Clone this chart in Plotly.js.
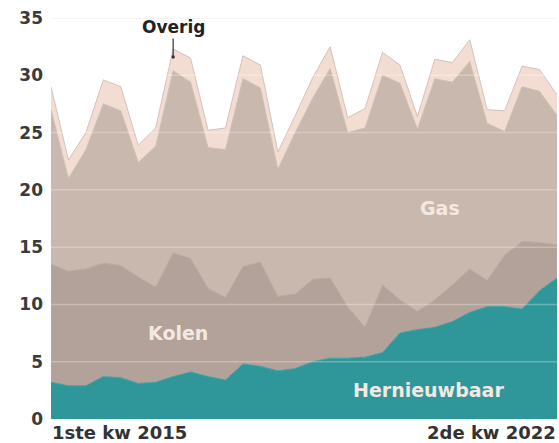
<!DOCTYPE html>
<html>
<head>
<meta charset="utf-8">
<script src="https://cdn.plot.ly/plotly-3.0.1.min.js"></script>
<style>html,body{margin:0;padding:0;background:#fff;}#chart{width:559px;height:443px;}</style>
</head>
<body>
<div id="chart"></div>
<script>
var quarters = ['2015 K1','2015 K2','2015 K3','2015 K4','2016 K1','2016 K2','2016 K3','2016 K4',
  '2017 K1','2017 K2','2017 K3','2017 K4','2018 K1','2018 K2','2018 K3','2018 K4',
  '2019 K1','2019 K2','2019 K3','2019 K4','2020 K1','2020 K2','2020 K3','2020 K4',
  '2021 K1','2021 K2','2021 K3','2021 K4','2022 K1','2022 K2'];
var hernieuwbaar = [3.2,2.9,2.9,3.7,3.6,3.1,3.2,3.7,4.1,3.7,3.4,4.8,4.6,4.2,4.4,5.0,5.3,5.3,5.4,5.8,7.5,7.8,8.0,8.5,9.3,9.8,9.8,9.6,11.2,12.3];
var kolen = [10.3,10.0,10.2,9.9,9.8,9.3,8.3,10.8,9.9,7.7,7.2,8.5,9.1,6.5,6.5,7.2,7.0,4.5,2.6,5.9,2.9,1.6,2.4,3.2,3.8,2.3,4.5,5.9,4.2,2.9];
var gas = [13.5,8.1,10.4,13.9,13.5,10.0,12.3,15.9,15.4,12.3,12.9,16.4,15.2,11.1,14.1,15.8,18.3,15.2,17.4,18.3,18.9,15.9,19.3,17.7,18.1,13.7,10.8,13.5,13.2,11.3];
var overig = [2.0,1.6,1.5,2.1,2.1,1.5,1.6,1.9,2.1,1.5,1.9,2.0,2.0,1.5,1.5,1.8,1.9,1.3,1.7,2.0,1.6,1.1,1.7,1.7,1.9,1.2,1.8,1.8,1.9,1.8];
var yTicks = [0,5,10,15,20,25,30,35];
var xLabels = ['1ste kw 2015','2de kw 2022'];

var series = [
  {name:'Hernieuwbaar', y:hernieuwbaar, fill:'#2f979a', line:'#3a9fa1'},
  {name:'Kolen', y:kolen, fill:'#b2a299', line:'#b8a89f'},
  {name:'Gas', y:gas, fill:'#c9b8ad', line:'#cdbdb2'},
  {name:'Overig', y:overig, fill:'#f3ddd2', line:'#d2c3bb'}
];
var traces = series.map(function(s){
  return {x:quarters, y:s.y, name:s.name, type:'scatter', mode:'lines',
    stackgroup:'one', fillcolor:s.fill, line:{color:s.line, width:1}, hoverinfo:'skip'};
});

var shapes = yTicks.filter(function(v){return v>0;}).map(function(v){
  return {type:'line', xref:'paper', x0:0, x1:1, yref:'y', y0:v, y1:v, layer:'above',
    line:{color: v===35 ? 'rgba(0,0,0,0.06)' : 'rgba(255,255,255,0.28)', width:1.5}};
});

var lblFont = {family:'DejaVu Sans', size:19, color:'#f3e8e2', weight:700};
var axFont = {family:'DejaVu Sans', size:18, color:'#333', weight:700};
var annotations = [
  {x:quarters[0], y:0, yref:'paper', yanchor:'top', xanchor:'left', text:xLabels[0], showarrow:false,
   font:axFont, yshift:-1, xshift:-1},
  {x:quarters[quarters.length-1], y:0, yref:'paper', yanchor:'top', xanchor:'right', text:xLabels[1], showarrow:false,
   font:axFont, yshift:-1, xshift:1},
  {x:quarters[7], y:31.6, text:'Overig', showarrow:true, arrowhead:6, arrowsize:0.7, arrowwidth:1.2, arrowcolor:'#333',
   ax:0, ay:-30, font:{family:'DejaVu Sans', size:17, color:'#222', weight:700}},
  {x:22.3, y:18.4, text:'Gas', showarrow:false, font:lblFont},
  {x:7.3, y:7.5, text:'Kolen', showarrow:false, font:lblFont},
  {x:21.65, y:2.5, text:'Hernieuwbaar', showarrow:false, font:lblFont}
];

var layout = {
  width:559, height:443,
  margin:{l:51, r:2, t:18, b:24},
  paper_bgcolor:'#fff', plot_bgcolor:'#fff',
  showlegend:false,
  xaxis:{type:'category', range:[0, quarters.length-1], showticklabels:false, showgrid:false, zeroline:false, ticks:''},
  yaxis:{range:[0,35], tickvals:yTicks, showgrid:false, zeroline:false, ticks:'',
    tickfont:{family:'DejaVu Sans', size:17, color:'#3a3a3a', weight:700}, ticklabelstandoff:7},
  shapes:shapes,
  annotations:annotations
};
Plotly.newPlot('chart', traces, layout, {displayModeBar:false, staticPlot:true});
</script>
</body>
</html>
